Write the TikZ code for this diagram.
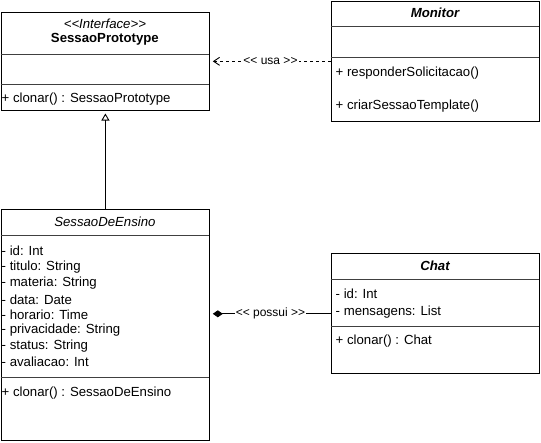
\documentclass[tikz,border=0pt]{standalone}
\usepackage{fontspec}
\setmainfont{Liberation Sans}[Ligatures=TeXOff]
\usetikzlibrary{arrows.meta}
\begin{document}
\begin{tikzpicture}[x=1pt,y=-1pt,
  classbox/.style={draw,line width=1pt,inner sep=0pt,anchor=north west},
  sepline/.style={line width=0.9pt,black!75},
  txt/.style={anchor=west,inner sep=0pt,font=\fontsize{13.2}{15}\selectfont},
  ctr/.style={inner sep=0pt,font=\fontsize{13.2}{15}\selectfont},
  lbl/.style={fill=white,inner sep=1pt,font=\fontsize{12}{14}\selectfont},
  conn/.style={line width=0.9pt}]
\useasboundingbox (0,0) rectangle (541,442);

% SessaoPrototype
\node[classbox,minimum width=208.8pt,minimum height=98.3pt] (sp) at (0.5,11.7) {};
\draw[sepline] (0.5,54.3) -- (209.3,54.3);
\draw[sepline] (0.5,84) -- (209.3,84);
\node[ctr,font=\fontsize{13.2}{15}\selectfont\itshape] (spst) at (104.9,24) {<<Interface>>};
\node[ctr,font=\fontsize{13.2}{15}\selectfont\bfseries] (spname) at (104.9,39.5) {SessaoPrototype};
\node[txt] (spm1) at (1.5,99) {+ clonar() : SessaoPrototype};

% Monitor
\node[classbox,minimum width=208.6pt,minimum height=119.7pt] (mon) at (330.7,1) {};
\draw[sepline] (330.7,26.5) -- (539.3,26.5);
\draw[sepline] (330.7,57.3) -- (539.3,57.3);
\node[ctr,font=\fontsize{13.2}{15}\selectfont\bfseries\itshape] (monname) at (435,13) {Monitor};
\node[txt] (monm1) at (335.5,72.7) {+ responderSolicitacao()};
\node[txt] (monm2) at (335.5,106) {+ criarSessaoTemplate()};

% SessaoDeEnsino
\node[classbox,minimum width=208.8pt,minimum height=230.7pt] (sde) at (0.5,209.3) {};
\draw[sepline] (0.5,235) -- (209.3,235);
\draw[sepline] (0.5,377.7) -- (209.3,377.7);
\node[ctr,font=\fontsize{13.2}{15}\selectfont\itshape] (sdename) at (104.9,222) {SessaoDeEnsino};
\node[txt] (sdea1) at (1.5,251) {- id: Int};
\node[txt] (sdea2) at (1.5,267) {- titulo: String};
\node[txt] (sdea3) at (1.5,283) {- materia: String};
\node[txt] (sdea4) at (1.5,299.5) {- data: Date};
\node[txt] (sdea5) at (1.5,315) {- horario: Time};
\node[txt] (sdea6) at (1.5,330.5) {- privacidade: String};
\node[txt] (sdea7) at (1.5,346.5) {- status: String};
\node[txt] (sdea8) at (1.5,362) {- avaliacao: Int};
\node[txt] (sdem1) at (1.5,393.3) {+ clonar() : SessaoDeEnsino};

% Chat
\node[classbox,minimum width=208.6pt,minimum height=120pt] (chat) at (330.7,253.3) {};
\draw[sepline] (330.7,279.3) -- (539.3,279.3);
\draw[sepline] (330.7,326) -- (539.3,326);
\node[ctr,font=\fontsize{13.2}{15}\selectfont\bfseries\itshape] (chatname) at (435,266) {Chat};
\node[txt] (chata1) at (335.5,294) {- id: Int};
\node[txt] (chata2) at (335.5,311.7) {- mensagens: List};
\node[txt] (chatm1) at (335.5,340.7) {+ clonar() : Chat};

% connectors
\draw[conn,dash pattern=on 3pt off 3pt,-{Straight Barb[length=6pt,width=8pt]},shorten >=2.5pt]
  (mon.west) -- (sp.east) node[midway,lbl] (usa) {<< usa >>};
\draw[conn,-{Triangle[open,length=7pt,width=8pt]},shorten >=2.5pt]
  (sde.north) -- (sp.south);
\draw[conn,{Diamond[length=10pt,width=7pt]}-,shorten <=2.5pt]
  (chat.west -| sde.east) -- (chat.west) node[midway,lbl] (possui) {<< possui >>};
\end{tikzpicture}
\end{document}
